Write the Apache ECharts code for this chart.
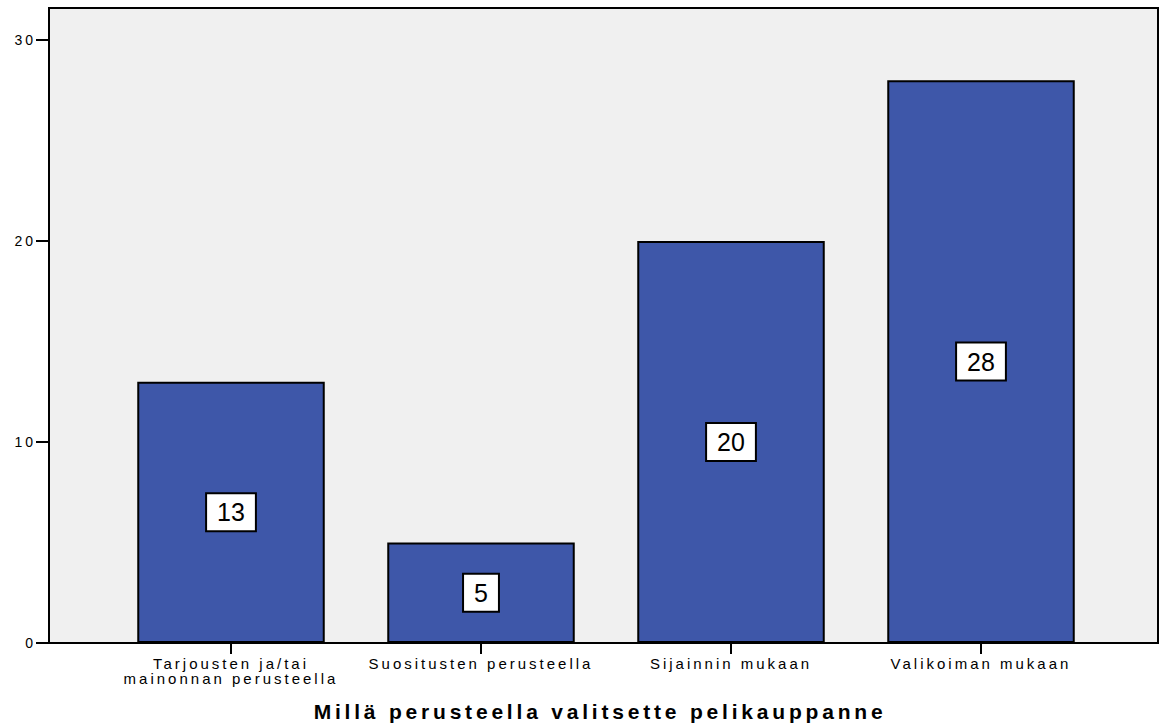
<!DOCTYPE html>
<html>
<head>
<meta charset="utf-8">
<script src="https://cdn.jsdelivr.net/npm/echarts@6/dist/echarts.min.js"></script>
<style>
  html, body { margin: 0; padding: 0; background: #fff; }
  #chart { width: 1160px; height: 724px; }
  /* wide letter spacing for the axis texts */
  #chart text[style*="14px"], #chart text[style*="15px"] { letter-spacing: 3px; }
  #chart text[style*="21px"] { letter-spacing: 3.8px; }
</style>
</head>
<body>
<div id="chart"></div>
<script>
// Survey answers: how the game store is chosen
const categories = [
  'Tarjousten ja/tai\nmainonnan perusteella',
  'Suositusten perusteella',
  'Sijainnin mukaan',
  'Valikoiman mukaan'
];
const counts = [13, 5, 20, 28];
const yTicks = [0, 10, 20, 30];
const axisTitle = 'Millä perusteella valitsette pelikauppanne';

const FONT = '"Liberation Sans", Arial, sans-serif';
const BAR_COLOR = '#3e57a9';

const chart = echarts.init(document.getElementById('chart'), null, { renderer: 'svg' });

chart.setOption({
  animation: false,
  backgroundColor: '#ffffff',
  textStyle: { fontFamily: FONT },
  grid: [
    // outer frame with grey plot background
    { left: 49, right: 2, top: 8, bottom: 81, show: true, outerBoundsMode: 'none',
      backgroundColor: '#f0f0f0', borderColor: '#000', borderWidth: 2 },
    // bar area
    { left: 106, right: 54, top: 40, bottom: 81, outerBoundsMode: 'none' }
  ],
  xAxis: [
    { gridIndex: 0, type: 'value', show: false, min: 0, max: 1 },
    {
      gridIndex: 1,
      type: 'category',
      data: categories,
      axisLine: { show: false },
      axisTick: { show: true, alignWithLabel: true, length: 11, inside: false,
        lineStyle: { color: '#000', width: 2 } },
      axisLabel: {
        color: '#000', fontFamily: FONT, fontSize: 15, lineHeight: 15, margin: 13,
        interval: 0
      }
    }
  ],
  yAxis: [
    { gridIndex: 0, type: 'value', show: false, min: 0, max: 1 },
    {
      gridIndex: 1,
      type: 'value',
      min: yTicks[0],
      max: yTicks[yTicks.length - 1],
      interval: yTicks[1] - yTicks[0],
      offset: 57,
      axisLine: { show: false },
      axisTick: { show: true, length: 13, lineStyle: { color: '#000', width: 2 } },
      axisLabel: { color: '#000', fontFamily: FONT, fontSize: 14, margin: 13 },
      splitLine: { show: false }
    }
  ],
  graphic: [
    {
      type: 'text',
      x: 600,
      y: 711,
      style: {
        text: axisTitle,
        fill: '#000',
        font: 'bold 21px ' + FONT,
        textAlign: 'center',
        textVerticalAlign: 'middle'
      }
    }
  ],
  series: [
    {
      type: 'bar',
      xAxisIndex: 1,
      yAxisIndex: 1,
      data: counts,
      barWidth: '75%',
      itemStyle: { color: BAR_COLOR, borderColor: '#000', borderWidth: 2 },
      label: {
        show: true,
        position: 'inside',
        color: '#000',
        fontFamily: FONT,
        fontSize: 25,
        backgroundColor: '#fff',
        borderColor: '#000',
        borderWidth: 2,
        padding: [6, 10, 5, 10]
      }
    }
  ]
});
</script>
</body>
</html>
